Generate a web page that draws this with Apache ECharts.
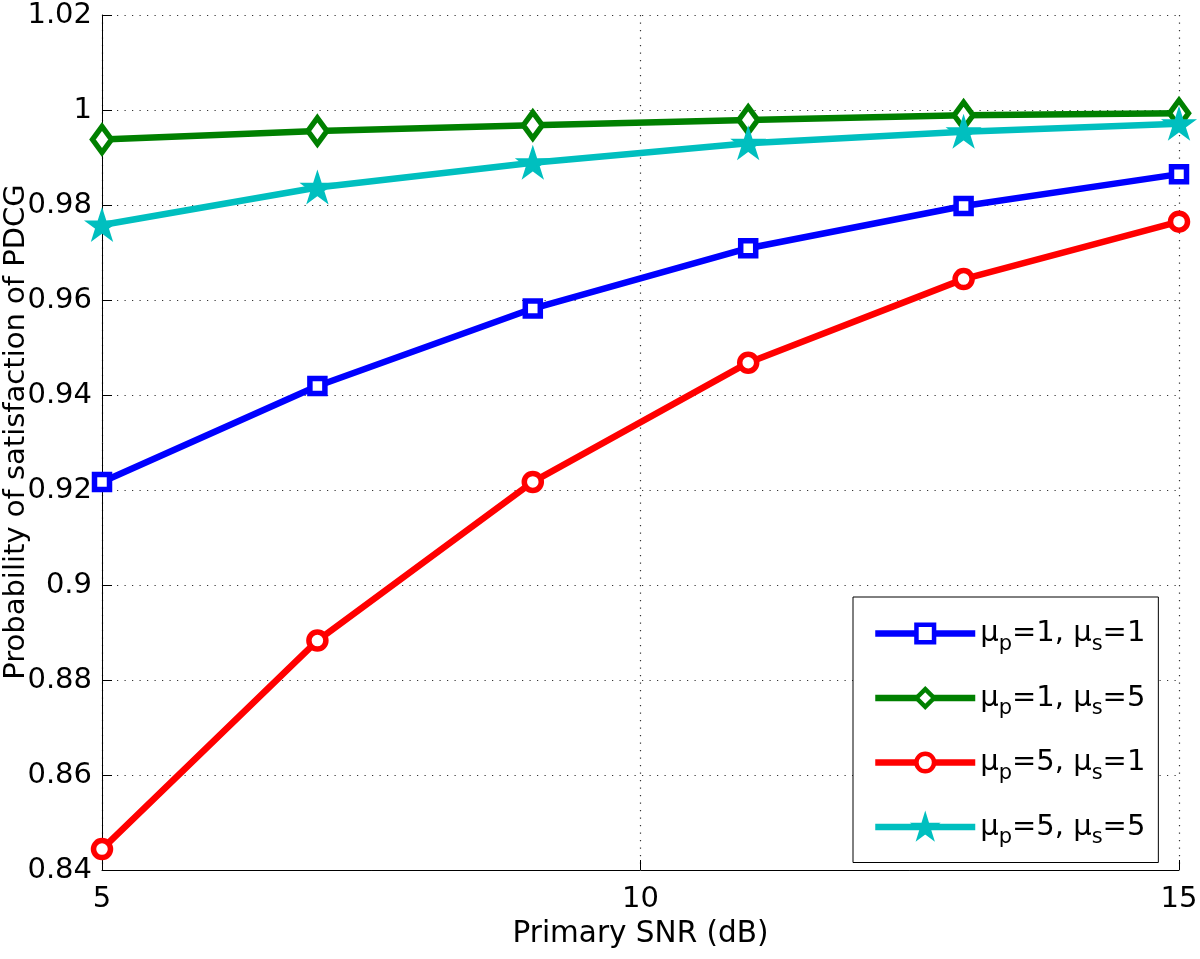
<!DOCTYPE html>
<html>
<head>
<meta charset="utf-8">
<script src="https://cdn.jsdelivr.net/npm/echarts@6/dist/echarts.min.js"></script>
<style>html,body{margin:0;padding:0;background:#fff;}#chart{width:1200px;height:959px;}</style>
</head>
<body>
<div id="chart"></div>
<script>
// ---- data ----
const snr = [5, 7, 9, 11, 13, 15];
const muP = [1, 1, 5, 5];
const muS = [1, 5, 1, 5];
const blueVals  = [0.9217, 0.9419, 0.9582, 0.9709, 0.9798, 0.9865];
const greenVals = [0.9938, 0.9956, 0.9968, 0.9979, 0.9989, 0.9993];
const redVals   = [0.8444, 0.8883, 0.9217, 0.9468, 0.9644, 0.9765];
const cyanVals  = [0.9758, 0.9837, 0.9889, 0.9930, 0.9954, 0.9971];
const xTicks = [5, 10, 15];
const yTickLabels = ['0.84','0.86','0.88','0.9','0.92','0.94','0.96','0.98','1','1.02'];
const xName = 'Primary SNR (dB)';
const yName = 'Probability of satisfaction of PDCG';

const FONT = 'DejaVu Sans';
const starPath = 'path://M50,0 L61.2,34.5 L97.6,34.5 L68.2,55.9 L79.4,90.5 L50,69.1 L20.6,90.5 L31.8,55.9 L2.4,34.5 L38.8,34.5 Z';

const names = muP.map((p, i) => 'μp=' + p + ', μs=' + muS[i]);
const valsList = [blueVals, greenVals, redVals, cyanVals];
const colors = ['#0000FF', '#008000', '#FF0000', '#00BFBF'];
const symbols = ['rect', 'diamond', 'circle', starPath];
const sizes = [15, [19, 26], 17, [27, 26]];
const fills = ['#fff', '#fff', '#fff', '#00BFBF'];
const borders = [5.5, 5.5, 5.5, 3];

const series = names.map((n, i) => ({
  name: n,
  type: 'line',
  clip: false,
  data: snr.map((x, j) => [x, valsList[i][j]]),
  symbol: symbols[i],
  symbolSize: sizes[i],
  showAllSymbol: true,
  lineStyle: { color: colors[i], width: 6.5 },
  itemStyle: { color: fills[i], borderColor: colors[i], borderWidth: borders[i] },
  emphasis: { disabled: true },
  z: 2 + i
}));

const chart = echarts.init(document.getElementById('chart'), null, { renderer: 'canvas' });
chart.setOption({
  animation: false,
  backgroundColor: '#fff',
  grid: { left: 102, right: 21, top: 15, bottom: 89, containLabel: false, outerBoundsMode: 'none' },
  graphic: [{
    type: 'text', x: 16, y: 432, rotation: Math.PI / 2,
    style: { text: yName, font: '29px "DejaVu Sans"', fill: '#000', align: 'center', verticalAlign: 'middle' }
  }],
  xAxis: {
    type: 'value', min: 5, max: 15, interval: 5,
    name: xName, nameLocation: 'middle', nameGap: 41,
    nameTextStyle: { fontFamily: FONT, fontSize: 29.5, color: '#000' },
    axisLine: { show: true, lineStyle: { color: '#000', width: 1 } },
    axisTick: { show: true, inside: true, length: 10, lineStyle: { color: '#000' } },
    axisLabel: { fontFamily: FONT, fontSize: 29, color: '#000', margin: 15 },
    splitLine: { show: true, lineStyle: { color: '#333', width: 1.2, type: [1.2, 6.3] } }
  },
  yAxis: {
    type: 'value', min: 0.84, max: 1.02, interval: 0.02,
    axisLine: { show: true, lineStyle: { color: '#000', width: 1 } },
    axisTick: { show: true, inside: true, length: 10, lineStyle: { color: '#000' } },
    axisLabel: {
      fontFamily: FONT, fontSize: 29, color: '#000', margin: 10,
      formatter: v => yTickLabels[Math.round((v - 0.84) / 0.02)]
    },
    splitLine: { show: true, lineStyle: { color: '#333', width: 1.2, type: [1.2, 6.3] } }
  },
  legend: {
    orient: 'vertical', left: 853, top: 597,
    data: names,
    itemWidth: 100, itemHeight: 22, itemGap: 21.5,
    padding: [15, 13, 14, 19],
    borderColor: '#000', borderWidth: 1, backgroundColor: '#fff',
    selectedMode: false,
    lineStyle: { width: 6.5 },
    itemStyle: { borderWidth: 4.5 },
    formatter: name => {
      const i = names.indexOf(name);
      return '{m|μ}{s|p}{m|=' + muP[i] + ', μ}{s|s}{m|=' + muS[i] + '}';
    },
    textStyle: {
      fontFamily: FONT, fontSize: 29, color: '#000',
      rich: {
        m: { fontFamily: FONT, fontSize: 29, color: '#000', lineHeight: 29 },
        s: { fontFamily: FONT, fontSize: 21, color: '#000', lineHeight: 6, padding: [22, 0, 0, 0] }
      }
    }
  },
  series: series
});
</script>
</body>
</html>
